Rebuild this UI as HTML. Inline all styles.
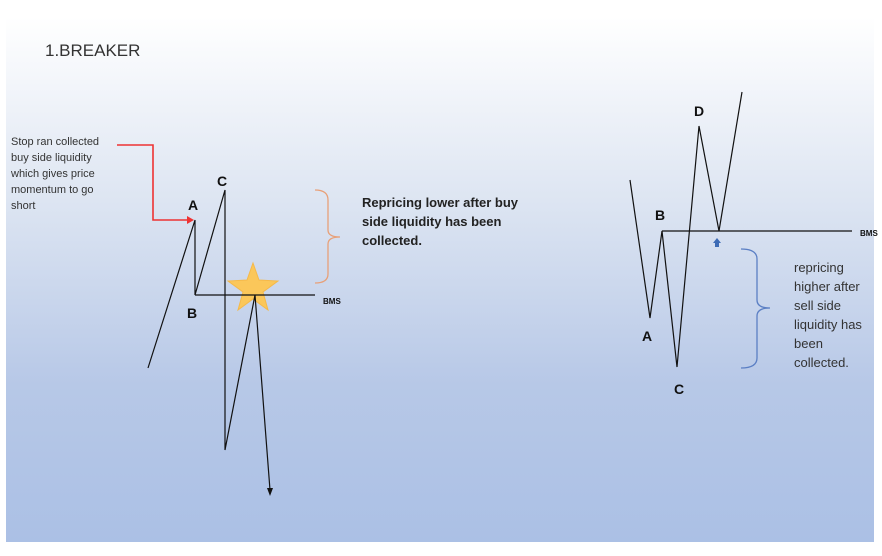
<!DOCTYPE html>
<html><head><style>
body{margin:0;width:882px;height:556px;background:#fff;overflow:hidden;position:relative;font-family:"Liberation Sans",sans-serif}
.slide{position:absolute;left:6px;top:17px;width:868px;height:525px;background:linear-gradient(#ffffff 0%,#dde5f2 35%,#b7c8e7 70%,#abc0e5 100%)}
.t{position:absolute;color:#222}
</style></head><body>
<div class="slide"></div>
<div class="t" style="left:45px;top:41px;font-size:17px;color:#333">1.BREAKER</div>
<div class="t" style="left:11px;top:134px;font-size:11px;line-height:16px;color:#333">Stop ran collected<br>buy side liquidity<br>which gives price<br>momentum to go<br>short</div>
<div class="t" style="left:362px;top:193px;font-size:13px;line-height:19px;font-weight:bold">Repricing lower after buy<br>side liquidity has been<br>collected.</div>
<div class="t" style="left:794px;top:258px;font-size:13px;line-height:19px;color:#333">repricing<br>higher after<br>sell side<br>liquidity has<br>been<br>collected.</div>
<svg width="882" height="556" style="position:absolute;left:0;top:0" font-family="Liberation Sans" font-weight="bold">
<polygon points="253,263 259,280 278,281 263,292 268,310 253,299 238,310 243,292 228,281 247,280" fill="#fbc75a" stroke="#f5b94a" stroke-width="1"/>
<g stroke="#111" stroke-width="1.2" fill="none">
<polyline points="148,368 195,220 195,295 225,190 225,450 255,295 270,490"/>
<line x1="195" y1="295" x2="315" y2="295"/>
<polyline points="630,180 650,318 662,231 677,367 699,126 719,231 742,92"/>
<line x1="662" y1="231" x2="852" y2="231"/>
</g>
<polygon points="267,488 273,488 270,496" fill="#111"/>
<polyline points="117,145 153,145 153,220 188,220" stroke="#e33" stroke-width="1.6" fill="none"/>
<polygon points="187,216 194,220 187,224" fill="#e33"/>
<path d="M315,190 Q328,190 328,200 L328,230 Q328,237 340,237 Q328,237 328,244 L328,274 Q328,283 315,283" stroke="#e8a078" stroke-width="1.3" fill="none"/>
<path d="M741,249 Q757,249 757,259 L757,300 Q757,308 770,308 Q757,308 757,316 L757,358 Q757,368 741,368" stroke="#5b7fc4" stroke-width="1.3" fill="none"/>
<polygon points="717,238 721,243 719,243 719,247 715,247 715,243 713,243" fill="#3d6bb5"/>
<g font-size="14" fill="#111">
<text x="188" y="210">A</text><text x="217" y="186">C</text><text x="187" y="318">B</text>
<text x="694" y="116">D</text><text x="655" y="220">B</text><text x="642" y="341">A</text><text x="674" y="394">C</text>
</g>
<g font-size="8" fill="#111"><text x="323" y="304">BMS</text><text x="860" y="236">BMS</text></g>
</svg>
</body></html>
